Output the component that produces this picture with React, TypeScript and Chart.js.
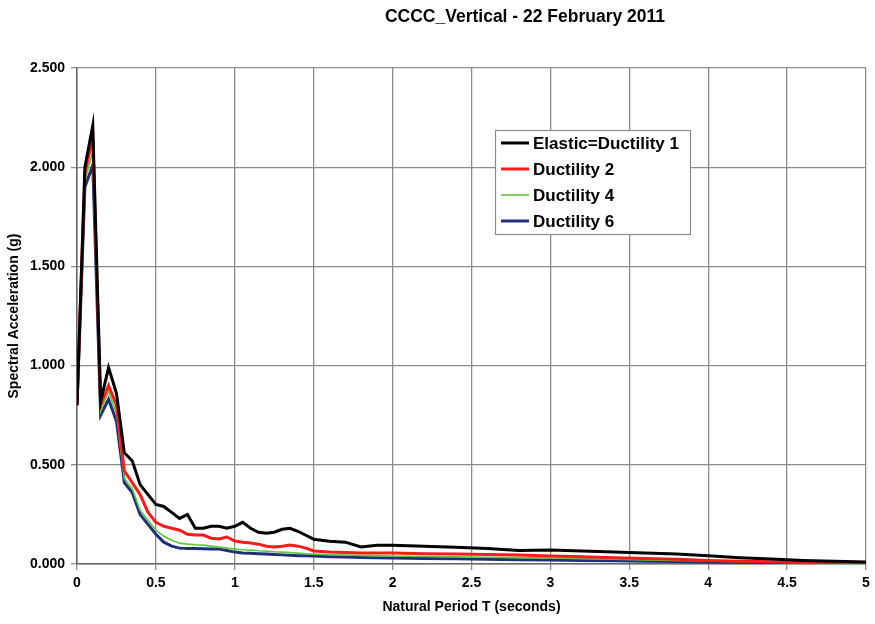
import React, { useEffect, useRef } from "react";
import { Chart, registerables } from "chart.js";

Chart.register(...registerables);

const chartTitle = "CCCC_Vertical - 22 February 2011";
const xAxisTitle = "Natural Period T (seconds)";
const yAxisTitle = "Spectral Acceleration (g)";

const periods = [
  0, 0.05, 0.1, 0.15, 0.2, 0.25, 0.3, 0.35, 0.4, 0.45,
  0.5, 0.55, 0.6, 0.65, 0.7, 0.75, 0.8, 0.85, 0.9, 0.95,
  1.0, 1.05, 1.1, 1.15, 1.2, 1.25, 1.3, 1.35, 1.4, 1.45,
  1.5, 1.6, 1.7, 1.8, 1.9, 2.0,
  2.2, 2.4, 2.6, 2.8, 3.0, 3.2, 3.4, 3.6, 3.8, 4.0,
  4.2, 4.4, 4.6, 4.8, 5.0,
];

const elastic = [
  0.8, 2.0, 2.21, 0.82, 0.99, 0.86, 0.56, 0.52, 0.4, 0.35,
  0.3, 0.29, 0.26, 0.23, 0.25, 0.18, 0.18, 0.19, 0.19, 0.18,
  0.19, 0.21, 0.18, 0.16, 0.155, 0.16, 0.175, 0.18, 0.165, 0.145,
  0.125, 0.115, 0.11, 0.086, 0.095, 0.095,
  0.09, 0.085, 0.078, 0.068, 0.07, 0.065, 0.06, 0.056, 0.05, 0.042,
  0.032, 0.025, 0.018, 0.014, 0.01,
];

const ductility2 = [
  0.8, 1.97, 2.15, 0.8, 0.9, 0.8, 0.47, 0.41, 0.35, 0.26,
  0.21, 0.19, 0.18, 0.17, 0.15, 0.146, 0.146, 0.13, 0.126, 0.136,
  0.116, 0.11, 0.106, 0.1, 0.09, 0.086, 0.09, 0.096, 0.09, 0.08,
  0.066, 0.06, 0.058, 0.055, 0.055, 0.055,
  0.052, 0.05, 0.048, 0.045, 0.04, 0.036, 0.032, 0.028, 0.024, 0.018,
  0.014, 0.011, 0.008, 0.006, 0.005,
];

const ductility4 = [
  0.8, 1.93, 2.08, 0.77, 0.87, 0.76, 0.43, 0.38, 0.27, 0.22,
  0.17, 0.14, 0.12, 0.105, 0.1, 0.097, 0.095, 0.09, 0.085, 0.08,
  0.075, 0.072, 0.07, 0.067, 0.065, 0.062, 0.06, 0.058, 0.055, 0.052,
  0.05, 0.047, 0.045, 0.043, 0.041, 0.04,
  0.038, 0.036, 0.034, 0.032, 0.03, 0.027, 0.024, 0.021, 0.018, 0.015,
  0.012, 0.01, 0.008, 0.006, 0.005,
];

const ductility6 = [
  0.8, 1.9, 2.01, 0.75, 0.83, 0.72, 0.41, 0.36, 0.25, 0.2,
  0.15, 0.11, 0.09, 0.08, 0.078, 0.078, 0.077, 0.076, 0.075, 0.068,
  0.06, 0.056, 0.054, 0.052, 0.05, 0.048, 0.046, 0.044, 0.042, 0.041,
  0.04, 0.037, 0.035, 0.033, 0.031, 0.03,
  0.028, 0.026, 0.024, 0.022, 0.02, 0.018, 0.016, 0.014, 0.012, 0.01,
  0.008, 0.006, 0.005, 0.004, 0.003,
];

const seriesNames = ["Elastic=Ductility 1", "Ductility 2", "Ductility 4", "Ductility 6"];
const seriesValues = [elastic, ductility2, ductility4, ductility6];
const seriesColors = ["#000000", "#ff1a1a", "#5cc83a", "#1f2f7a"];
const seriesWidths = [3, 3, 1.6, 3];

const FONT = 'Arial, "Liberation Sans", Helvetica, sans-serif';

const overlayPlugin = {
  id: "overlay",
  afterDraw(chart: any) {
    const ctx = chart.ctx;
    ctx.save();
    // title
    ctx.fillStyle = "#000";
    ctx.font = `bold 17.5px ${FONT}`;
    ctx.textAlign = "center";
    ctx.textBaseline = "middle";
    ctx.fillText(chartTitle, 525, 17);

    // legend
    const bx = 495, by = 130, bw = 195, bh = 104;
    ctx.fillStyle = "#ffffff";
    ctx.fillRect(bx, by, bw, bh);
    ctx.strokeStyle = "#8a8a8a";
    ctx.lineWidth = 1.2;
    ctx.strokeRect(bx + 0.5, by + 0.5, bw, bh);
    chart.data.datasets.forEach((ds: any, i: number) => {
      const y = by + 13 + i * 26;
      ctx.strokeStyle = ds.borderColor;
      ctx.lineWidth = ds.borderWidth;
      ctx.beginPath();
      ctx.moveTo(501, y);
      ctx.lineTo(529, y);
      ctx.stroke();
      ctx.fillStyle = "#000";
      ctx.font = `bold 17px ${FONT}`;
      ctx.textAlign = "left";
      ctx.textBaseline = "middle";
      ctx.fillText(ds.label, 533, y + 1);
    });
    ctx.restore();
  },
};

export default function App() {
  const canvasRef = useRef<HTMLCanvasElement | null>(null);

  useEffect(() => {
    if (!canvasRef.current) return;
    const datasets = seriesNames.map((name, i) => ({
      label: name,
      data: periods.map((p, j) => ({ x: p, y: seriesValues[i][j] })),
      borderColor: seriesColors[i],
      backgroundColor: seriesColors[i],
      borderWidth: seriesWidths[i],
      pointRadius: 0,
      tension: 0,
      fill: false,
    }));
    const chart = new Chart(canvasRef.current, {
      type: "line",
      data: { datasets },
      plugins: [overlayPlugin],
      options: {
        animation: false,
        responsive: false,
        maintainAspectRatio: false,
        layout: { padding: { top: 68, right: 9, left: 0, bottom: 0 } },
        plugins: {
          legend: { display: false },
          title: { display: false },
          tooltip: { enabled: false },
        },
        scales: {
          x: {
            type: "linear",
            min: 0,
            max: 5,
            afterFit: (scale: any) => {
              scale.height = 60;
            },
            ticks: {
              stepSize: 0.5,
              color: "#000",
              font: { family: FONT, size: 14, weight: "bold" },
              padding: 5,
              maxRotation: 0,
              callback: (v: any) => String(Number(v)),
            },
            grid: {
              color: "#8c8c8c",
              lineWidth: 1.3,
              tickLength: 6,
              drawTicks: true,
            },
            border: { color: "#666", width: 1.5 },
            title: {
              display: true,
              text: xAxisTitle,
              color: "#000",
              font: { family: FONT, size: 14, weight: "bold" },
              padding: { top: 4, bottom: 8 },
            },
          },
          y: {
            type: "linear",
            min: 0,
            max: 2.5,
            afterFit: (scale: any) => {
              scale.width = 77;
            },
            ticks: {
              stepSize: 0.5,
              color: "#000",
              font: { family: FONT, size: 14, weight: "bold" },
              padding: 6,
              callback: (v: any) => Number(v).toFixed(3),
            },
            grid: {
              color: "#8c8c8c",
              lineWidth: 1.3,
              tickLength: 6,
              drawTicks: true,
            },
            border: { color: "#666", width: 1.5 },
            title: {
              display: true,
              text: yAxisTitle,
              color: "#000",
              font: { family: FONT, size: 14, weight: "bold" },
              padding: { top: 6, bottom: 4 },
            },
          },
        },
      },
    } as any);
    return () => chart.destroy();
  }, []);

  return (
    <div
      style={{
        position: "fixed",
        left: 0,
        top: 0,
        width: 875,
        height: 624,
        background: "#ffffff",
      }}
    >
      <canvas ref={canvasRef} width={875} height={624} style={{ width: 875, height: 624 }} />
    </div>
  );
}
